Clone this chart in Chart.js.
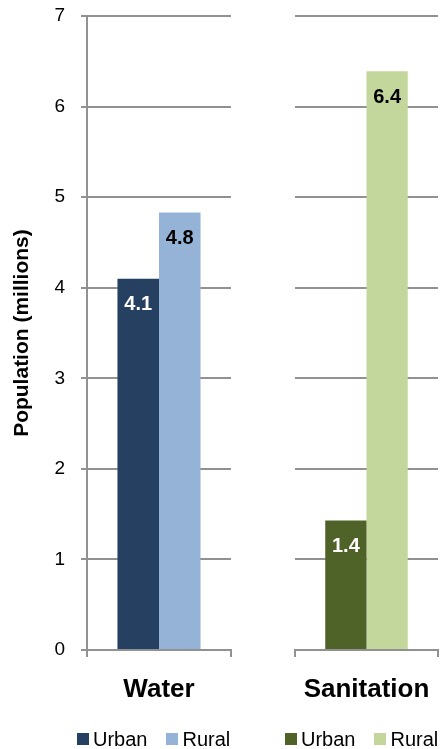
<!DOCTYPE html>
<html>
<head>
<meta charset="utf-8">
<script src="https://cdn.jsdelivr.net/npm/chart.js@4.4.1/dist/chart.umd.min.js"></script>
<style>
  body { margin: 0; background: #fff; width: 444px; height: 749px; overflow: hidden; position: relative;
         font-family: "Liberation Sans", Arial, sans-serif; }
  .panel { position: absolute; top: 0; height: 749px; }
  #waterBox { left: 0; width: 240px; }
  #sanBox { left: 240px; width: 204px; }
  .legend { position: absolute; top: 729px; display: flex; align-items: center; font-size: 20px; line-height: 20px; color: #000; }
  .legend .sw { width: 12px; height: 12px; margin-right: 4px; }
  .legend .item { display: flex; align-items: center; }
  .legend .item + .item { margin-left: 19px; }
</style>
</head>
<body>
<div class="panel" id="waterBox"><canvas id="waterChart"></canvas></div>
<div class="panel" id="sanBox"><canvas id="sanChart"></canvas></div>
<div class="legend" id="waterLegend" style="left:77px"></div>
<div class="legend" id="sanLegend" style="left:285px"></div>
<script>
// data
const groups = ['Water', 'Sanitation'];
const seriesNames = ['Urban', 'Rural'];
const waterValues = [4.1, 4.83];
const sanitationValues = [1.43, 6.39];
const yTicks = [0, 1, 2, 3, 4, 5, 6, 7];
const waterColors = ['#264061', '#95B3D7'];
const sanitationColors = ['#4F6228', '#C3D69B'];
const labelColors = ['#ffffff', '#000000'];

const FONT = '"Liberation Sans", Arial, sans-serif';
const gridColor = '#919191';

// value labels inside the top of each bar
const valueLabels = {
  id: 'valueLabels',
  afterDatasetsDraw(chart) {
    const ctx = chart.ctx;
    ctx.save();
    ctx.font = 'bold 20px ' + FONT;
    ctx.textAlign = 'center';
    ctx.textBaseline = 'middle';
    chart.data.datasets.forEach((ds, i) => {
      chart.getDatasetMeta(i).data.forEach((bar, j) => {
        ctx.fillStyle = labelColors[i];
        ctx.fillText(ds.data[j].toFixed(1), bar.x, bar.y + 26);
      });
    });
    ctx.restore();
  }
};

function makeChart(id, group, values, colors, leftAxis) {
  return new Chart(document.getElementById(id), {
    type: 'bar',
    data: {
      labels: [group],
      datasets: seriesNames.map((name, i) => ({
        label: name,
        data: [values[i]],
        backgroundColor: colors[i],
        borderWidth: 0,
        categoryPercentage: 0.577,
        barPercentage: 1
      }))
    },
    options: {
      responsive: true,
      maintainAspectRatio: false,
      animation: false,
      layout: { padding: { top: 16, right: leftAxis ? 9 : 6, bottom: 0, left: 0 } },
      plugins: { legend: { display: false }, tooltip: { enabled: false } },
      scales: {
        x: {
          offset: true,
          grid: { offset: true, drawOnChartArea: false, tickLength: 7, color: gridColor, lineWidth: 2 },
          border: { display: true, color: gridColor, width: 2 },
          ticks: { color: '#000', font: { family: FONT, size: 26, weight: 'bold', lineHeight: 1.885 }, padding: 8 },
          afterFit(s) { s.height = 99; }
        },
        y: {
          min: yTicks[0],
          max: yTicks[yTicks.length - 1],
          // tiny lineHeight so the tick labels don't push the plot top down
          ticks: { stepSize: 1, display: leftAxis, color: '#000', font: { family: FONT, size: 19, lineHeight: 0.01 }, padding: 16 },
          grid: { color: gridColor, lineWidth: 2, tickLength: 6, drawTicks: leftAxis },
          border: { display: leftAxis, color: gridColor, width: 2 },
          title: {
            display: leftAxis, text: 'Population (millions)', color: '#000',
            font: { family: FONT, size: 21, weight: 'bold' }, padding: { top: 10, bottom: 0 }
          },
          afterFit(s) { s.width = leftAxis ? 87 : 55; }
        }
      }
    },
    plugins: [valueLabels]
  });
}

function makeLegend(id, colors) {
  document.getElementById(id).innerHTML = seriesNames.map((name, i) =>
    `<div class="item"><span class="sw" style="background:${colors[i]}"></span><span>${name}</span></div>`
  ).join('');
}

makeChart('waterChart', groups[0], waterValues, waterColors, true);
makeChart('sanChart', groups[1], sanitationValues, sanitationColors, false);
makeLegend('waterLegend', waterColors);
makeLegend('sanLegend', sanitationColors);
</script>
</body>
</html>
